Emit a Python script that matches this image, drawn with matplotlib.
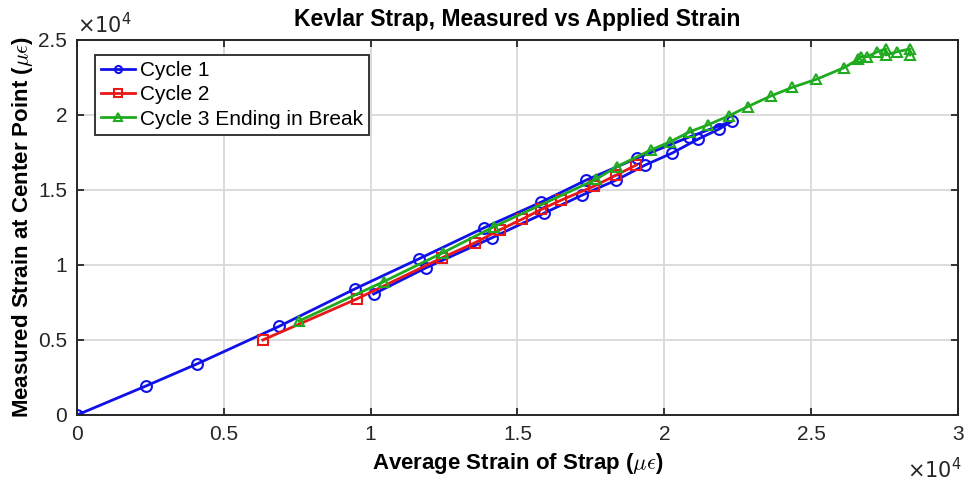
import matplotlib.pyplot as plt
from matplotlib.ticker import FuncFormatter, MultipleLocator

plt.rcParams['font.family'] = ['Liberation Sans', 'DejaVu Sans']
plt.rcParams['mathtext.fontset'] = 'cm'

# cycle 1: load up to ~2.2e4 then unload back to ~1e4
c1_x = [0, 2347, 4082, 6871, 9456, 11633, 13844, 15816, 17347, 19082, 20850, 22313,
        21871, 21156, 20272, 19354, 18367, 17211, 15918, 14116, 11871, 10102]
c1_y = [0, 1933, 3400, 5900, 8400, 10400, 12467, 14200, 15667, 17133, 18533, 19600,
        19067, 18400, 17467, 16667, 15667, 14667, 13467, 11800, 9800, 8067]

# cycle 2
c2_x = [6327, 9524, 12415, 13537, 14388, 15170, 15816, 16497, 17619, 18367, 19048]
c2_y = [5000, 7733, 10467, 11467, 12333, 13067, 13711, 14333, 15267, 16000, 16667]

# cycle 3, loaded until the strap broke
c3_x = [7560, 10442, 12460, 14195, 17676, 18378, 19546, 20204, 20873, 21474, 22187,
        22834, 23628, 24364, 25180, 26122, 26610, 26690, 26916, 27256, 27540, 27540,
        27936, 28356, 28356]
c3_y = [6267, 8887, 10820, 12553, 15713, 16553, 17667, 18220, 18887, 19333, 19933,
        20553, 21267, 21847, 22380, 23153, 23713, 23887, 23887, 24220, 24400, 24000,
        24220, 24400, 24000]

fig = plt.figure(figsize=(9.66, 4.83), dpi=100)
ax = fig.add_axes([0.0797, 0.1408, 0.912, 0.7764])

mk = dict(markerfacecolor='none', markersize=7.8, markeredgewidth=1.5, linewidth=2.0)
ax.plot(c1_x, c1_y, '-o', color='#1010e8', label='Cycle 1', **mk)
ax.plot(c2_x, c2_y, '-s', color='#e81818', label='Cycle 2', **mk)
ax.plot(c3_x, c3_y, '-^', color='#1faa1f', label='Cycle 3 Ending in Break', **mk)

ax.set_xlim(0, 30000)
ax.set_ylim(0, 25000)
ax.xaxis.set_major_locator(MultipleLocator(5000))
ax.yaxis.set_major_locator(MultipleLocator(5000))
fmt = FuncFormatter(lambda v, p: '%g' % (v / 1e4))
ax.xaxis.set_major_formatter(fmt)
ax.yaxis.set_major_formatter(fmt)

ax.grid(True, color='#d9d9d9', linewidth=1.3)
ax.set_axisbelow(True)
ax.tick_params(direction='in', length=5, width=1.3, top=True, right=True,
               labelsize=15, colors='#262626', pad=7)
for s in ax.spines.values():
    s.set_linewidth(1.4)
    s.set_color('#262626')

# shared exponent for both axes
ax.text(0.0, 1.008, r'$\times10^4$', transform=ax.transAxes, fontsize=15,
        color='#262626', ha='left', va='bottom', math_fontfamily='dejavusans')
fig.text(0.995, 0.027, r'$\times10^4$', fontsize=15, color='#262626',
         ha='right', va='center', math_fontfamily='dejavusans')

ax.set_title('Kevlar Strap, Measured vs Applied Strain', fontsize=16.5,
             fontweight='bold', pad=10)
ax.set_xlabel(r'Average Strain of Strap ($\mu\epsilon$)', fontsize=16,
              fontweight='bold', labelpad=5)
ax.set_ylabel(r'Measured Strain at Center Point ($\mu\epsilon$)', fontsize=16,
              fontweight='bold', labelpad=2)

leg = ax.legend(loc='upper left', bbox_to_anchor=(0.0204, 0.96), borderaxespad=0,
                fontsize=15, frameon=True, fancybox=False, edgecolor='#262626',
                framealpha=1, handlelength=1.6, handletextpad=0.25, borderpad=0.3,
                labelspacing=0.25, markerscale=0.65)
leg.get_frame().set_linewidth(1.3)

fig.savefig('out.png', dpi=100)
